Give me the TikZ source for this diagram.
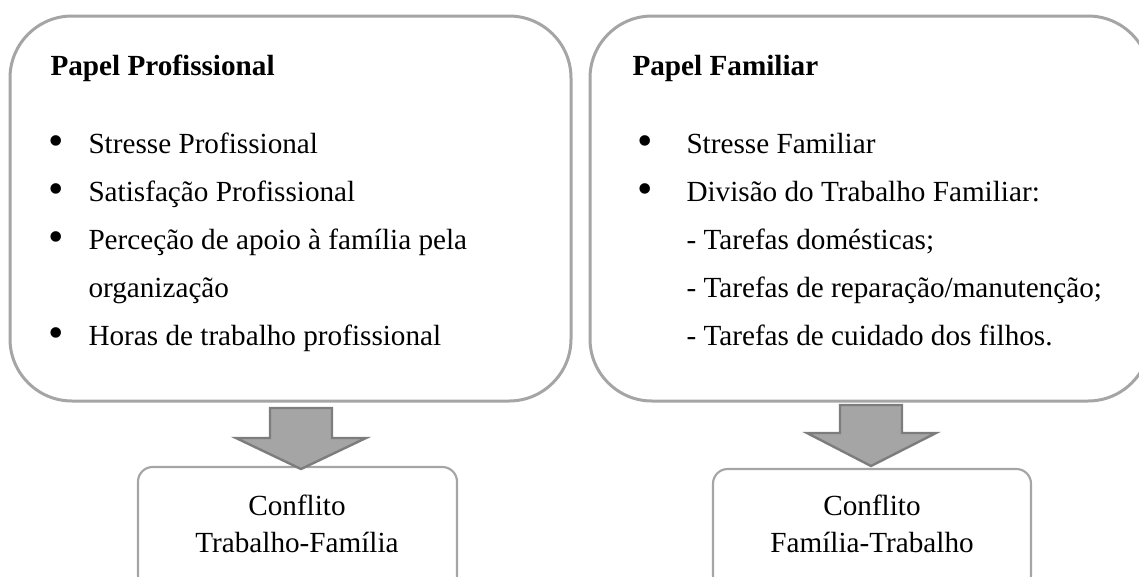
\documentclass[tikz,border=0pt]{standalone}
\usepackage{fontspec}
\setmainfont{Liberation Serif}
\definecolor{boxgray}{RGB}{165,165,165}
\definecolor{arrowedge}{RGB}{125,125,125}
\tikzset{every picture/.style={line width=0.75pt}}
\tikzset{
  bigbox/.style={draw=boxgray, line width=2.25pt, rounded corners=46.5pt},
  smallbox/.style={draw=boxgray, line width=1.6pt, rounded corners=11pt},
  blockarrow/.style={draw=arrowedge, fill=boxgray, line width=1.8pt, line join=miter},
  txt/.style={anchor=base west, inner sep=0pt, font=\fontsize{21.9}{26}\selectfont},
  ctxt/.style={anchor=base, inner sep=0pt, font=\fontsize{21.9}{26}\selectfont},
  bul/.style={anchor=center, inner sep=0pt, font=\fontsize{33}{33}\selectfont},
}

\begin{document}
\begin{tikzpicture}[x=0.75pt,y=0.75pt,yscale=-1,xscale=1]
\useasboundingbox (0,0) rectangle (1139,576);

%Rounded Rect: left role
\draw [bigbox] (10,16) rectangle (571,401) ;
%Rounded Rect: right role
\draw [bigbox] (590,16) rectangle (1150,401) ;
%Rounded Rect: left conflict
\draw [smallbox] (138,467) rectangle (457,590) ;
%Rounded Rect: right conflict
\draw [smallbox] (713,469) rectangle (1031,590) ;

%Shape: Down Arrow left
\draw [blockarrow] (270,408) -- (332,408) -- (332,438) -- (366,438) -- (301,469) -- (236,438) -- (270,438) -- cycle ;
%Shape: Down Arrow right
\draw [blockarrow] (840,405) -- (902,405) -- (902,433) -- (936,433) -- (871,466) -- (807,433) -- (840,433) -- cycle ;

% Text Node
\draw (50,75) node [txt] (hprof) {\textbf{Papel Profissional}};
\draw (56,146) node [bul] (bp1) {\textbullet};
\draw (88,153) node [txt] (ip1) {Stresse Profissional};
\draw (56,194) node [bul] (bp2) {\textbullet};
\draw (88,201) node [txt] (ip2) {Satisfação Profissional};
\draw (56,242) node [bul] (bp3) {\textbullet};
\draw (88,249) node [txt] (ip3) {Perceção de apoio à família pela};
\draw (88,297) node [txt] (ip3b) {organização};
\draw (56,338) node [bul] (bp4) {\textbullet};
\draw (88,345) node [txt] (ip4) {Horas de trabalho profissional};

% Text Node
\draw (632,75) node [txt] (hfam) {\textbf{Papel Familiar}};
\draw (645,146) node [bul] (bf1) {\textbullet};
\draw (686,153) node [txt] (if1) {Stresse Familiar};
\draw (645,194) node [bul] (bf2) {\textbullet};
\draw (686,201) node [txt] (if2) {Divisão do Trabalho Familiar:};
\draw (686,249) node [txt] (if3) {- Tarefas domésticas;};
\draw (686,297) node [txt] (if4) {- Tarefas de reparação/manutenção;};
\draw (686,345) node [txt] (if5) {- Tarefas de cuidado dos filhos.};

% Text Node
\draw (297,515) node [ctxt] (ctf1) {Conflito};
\draw (297,552) node [ctxt] (ctf2) {Trabalho-Família};
\draw (872,515) node [ctxt] (cft1) {Conflito};
\draw (872,552) node [ctxt] (cft2) {Família-Trabalho};

\end{tikzpicture}
\end{document}
